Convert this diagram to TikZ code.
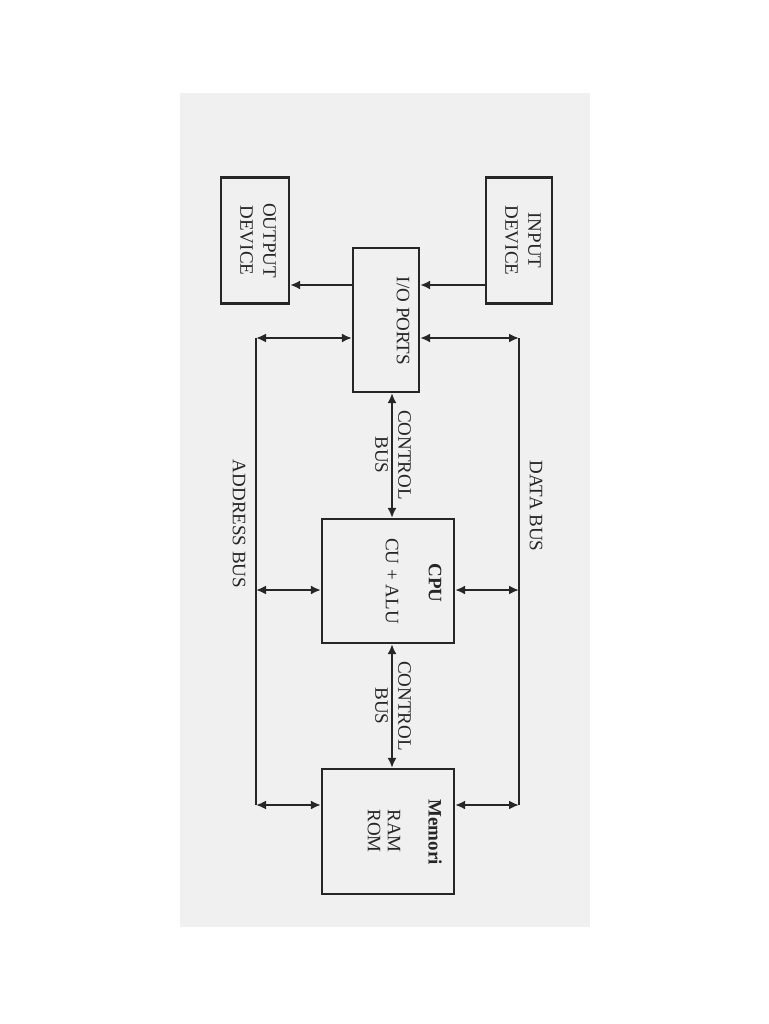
\documentclass[tikz,border=0pt]{standalone}
\usepackage{fontspec}
\setmainfont{Liberation Serif}
\usepackage{tikz}
\usetikzlibrary{positioning,arrows.meta}

\begin{document}
\begin{tikzpicture}[x=1pt,y=-1pt,
  font=\fontsize{19}{23}\selectfont,
  box/.style={draw=black!85,line width=2.2pt,inner sep=0pt},
  lbl/.style={rotate=-90,align=center,inner sep=0pt,text=black!85},
  wire/.style={draw=black!85,line width=2.2pt},
  one/.style={wire,-{Latex[length=10pt,width=9pt]}},
  two/.style={wire,{Latex[length=10pt,width=9pt]}-{Latex[length=10pt,width=9pt]}}]
\useasboundingbox (0,0) rectangle (768,1024);
\fill[white] (0,0) rectangle (768,1024);
\fill[gray!12] (180,93) rectangle (590,927);
% boxes
\node[box,minimum width=68pt,minimum height=126pt] (outd) at (255,240.5) {};
\node[box,minimum width=66pt,minimum height=126pt] (inp) at (519,240.5) {};
\node[box,minimum width=66pt,minimum height=144pt] (io) at (386,320) {};
\node[box,minimum width=132pt,minimum height=124pt] (cpu) at (388,581) {};
\node[box,minimum width=132pt,minimum height=125pt] (mem) at (388,831.5) {};
% texts
\node[lbl] (outdt) at (258,240.5) {OUTPUT\\DEVICE};
\node[lbl] (inpt) at (523,240.5) {INPUT\\DEVICE};
\node[lbl] (iot) at (403,321) {I/O PORTS};
\node[lbl,font=\fontsize{19}{23}\selectfont\bfseries] (cpul) at (435,583) {CPU};
\node[lbl] (cput) at (392,581) {CU + ALU};
\node[lbl,font=\fontsize{19}{23}\selectfont\bfseries] (meml) at (435,832) {Memori};
\node[lbl,font=\fontsize{19}{20}\selectfont] (memt) at (384,831) {RAM\\ROM};
\node[lbl] (abus) at (239,524) {ADDRESS BUS};
\node[lbl] (dbus) at (536,506) {DATA BUS};
\node[lbl] (cb1) at (393,455) {CONTROL\\BUS};
\node[lbl] (cb2) at (393,706) {CONTROL\\BUS};
% bus lines
\coordinate (a1) at (256,338);
\coordinate (a2) at (256,590);
\coordinate (a3) at (256,805);
\coordinate (d1) at (519,338);
\coordinate (d2) at (519,590);
\coordinate (d3) at (519,805);
\coordinate (k) at (0,285);
\coordinate (cb) at (392,0);
\draw[wire] (a1) -- (a3);
\draw[wire] (d1) -- (d3);
\draw[two] (a1) -- (io.west |- a1);
\draw[two] (a2) -- (cpu.west |- a2);
\draw[two] (a3) -- (mem.west |- a3);
\draw[two] (d1) -- (io.east |- d1);
\draw[two] (d2) -- (cpu.east |- d2);
\draw[two] (d3) -- (mem.east |- d3);
\draw[one] (inp.west |- k) -- (io.east |- k);
\draw[one] (io.west |- k) -- (outd.east |- k);
\draw[two] (io.south -| cb) -- (cpu.north -| cb);
\draw[two] (cpu.south -| cb) -- (mem.north -| cb);
\end{tikzpicture}
\end{document}
